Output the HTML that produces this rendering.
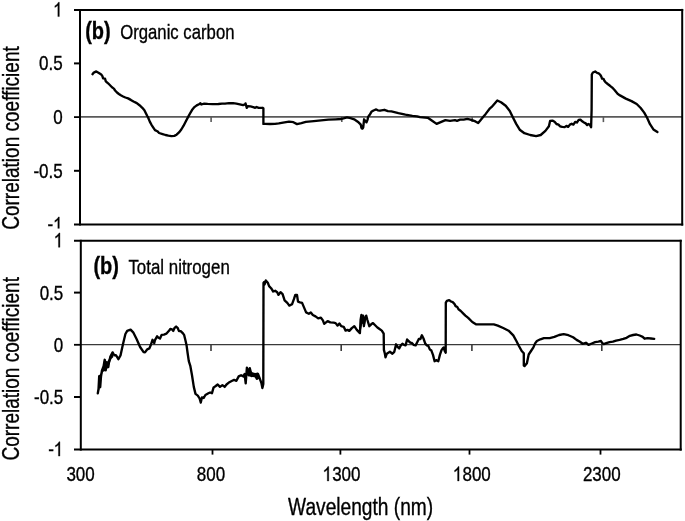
<!DOCTYPE html>
<html><head><meta charset="utf-8"><style>
html,body{margin:0;padding:0;background:#fff;}
body{width:685px;height:521px;overflow:hidden;}
svg{display:block;will-change:transform;}
text{font-family:"Liberation Sans", sans-serif;fill:#000;stroke:#000;stroke-width:0.35px;}
</style></head><body>
<svg width="685" height="521" viewBox="0 0 685 521">
<defs><clipPath id="cl1" clipPathUnits="userSpaceOnUse"><rect x="-100" y="-100" width="300" height="97.3"/></clipPath></defs>
<rect width="685" height="521" fill="#fff"/>
<line x1="80" y1="116.8" x2="682.2" y2="116.8" stroke="#5a5a5a" stroke-width="1.8"/>
<line x1="74" y1="117.1" x2="80" y2="117.1" stroke="#000" stroke-width="1.8"/>
<line x1="211.1" y1="116.8" x2="211.1" y2="122.1" stroke="#5a5a5a" stroke-width="1.6"/>
<line x1="341.8" y1="116.8" x2="341.8" y2="122.1" stroke="#5a5a5a" stroke-width="1.6"/>
<line x1="472.2" y1="116.8" x2="472.2" y2="122.1" stroke="#5a5a5a" stroke-width="1.6"/>
<line x1="603.4" y1="116.8" x2="603.4" y2="122.1" stroke="#5a5a5a" stroke-width="1.6"/>
<line x1="74" y1="63.4" x2="80" y2="63.4" stroke="#000" stroke-width="2"/>
<line x1="74" y1="170.8" x2="80" y2="170.8" stroke="#000" stroke-width="2"/>
<line x1="74" y1="9.9" x2="683.2" y2="9.9" stroke="#000" stroke-width="2"/>
<line x1="74" y1="224.6" x2="683.2" y2="224.6" stroke="#000" stroke-width="2"/>
<line x1="80" y1="8.9" x2="80" y2="225.6" stroke="#000" stroke-width="2"/>
<line x1="682.2" y1="8.9" x2="682.2" y2="225.6" stroke="#000" stroke-width="2"/>
<line x1="80.8" y1="344.6" x2="680.7" y2="344.6" stroke="#3a3a3a" stroke-width="1.4"/>
<line x1="74" y1="344.8" x2="80.8" y2="344.8" stroke="#000" stroke-width="1.8"/>
<line x1="211" y1="344.6" x2="211" y2="351.0" stroke="#3a3a3a" stroke-width="1.6"/>
<line x1="341.2" y1="344.6" x2="341.2" y2="351.0" stroke="#3a3a3a" stroke-width="1.6"/>
<line x1="471.9" y1="344.6" x2="471.9" y2="351.0" stroke="#3a3a3a" stroke-width="1.6"/>
<line x1="601.8" y1="344.6" x2="601.8" y2="351.0" stroke="#3a3a3a" stroke-width="1.6"/>
<line x1="212.5" y1="449.6" x2="212.5" y2="454.6" stroke="#000" stroke-width="1.8"/>
<line x1="340.4" y1="449.6" x2="340.4" y2="454.6" stroke="#000" stroke-width="1.8"/>
<line x1="469.5" y1="449.6" x2="469.5" y2="454.6" stroke="#000" stroke-width="1.8"/>
<line x1="600.5" y1="449.6" x2="600.5" y2="454.6" stroke="#000" stroke-width="1.8"/>
<line x1="74" y1="292.6" x2="80.8" y2="292.6" stroke="#000" stroke-width="2"/>
<line x1="74" y1="397.0" x2="80.8" y2="397.0" stroke="#000" stroke-width="2"/>
<line x1="74" y1="240.8" x2="681.7" y2="240.8" stroke="#000" stroke-width="2"/>
<line x1="74" y1="449.6" x2="681.7" y2="449.6" stroke="#000" stroke-width="2"/>
<line x1="80.8" y1="239.8" x2="80.8" y2="450.6" stroke="#000" stroke-width="2"/>
<line x1="680.7" y1="239.8" x2="680.7" y2="450.6" stroke="#000" stroke-width="2"/>
<path d="M97.5,393.2 L98.0,388.8 L98.4,383.5 L98.6,376.4 L99.3,375.1 L100.6,373.8 L101.5,370.3 L102.4,368.5 L103.3,365.9 L104.1,359.3 L105.0,358.8 L105.9,360.6 L107.2,361.5 L108.5,359.7 L109.9,356.2 L111.2,354.0 L112.5,351.3 L113.4,357.0 L111.6,358.8 L110.3,361.5 L109.0,365.0 L108.1,367.6 L106.3,370.3 L105.0,371.1 L102.8,372.0 L101.5,375.6 L101.0,379.1 L100.6,386.1 L99.7,387.9 L98.8,391.4 Z" fill="#000" stroke="none"/>
<path d="M246.3,368.0 L247.0,367.0 L247.6,370.0 L248.3,371.5 L249.0,368.0 L250.3,368.0 L251.2,371.5 L253.0,372.5 L255.0,373.0 L256.8,372.8 L257.5,372.3 L258.5,374.5 L260.0,377.5 L261.0,380.5 L261.3,383.0 L260.0,380.5 L258.5,379.0 L257.2,379.8 L256.0,378.0 L254.5,377.2 L252.5,377.0 L251.3,377.2 L250.0,376.5 L248.5,376.5 L247.3,375.5 L246.3,375.5 Z" fill="#000" stroke="none"/>
<path d="M360.8,322.0 L361.2,314.6 L362.6,315.0 L363.2,318.0 L364.5,317.0 L365.8,315.2 L366.6,316.5 L366.0,320.0 L364.6,326.5 L363.6,327.0 L363.0,323.0 L362.2,324.0 L361.5,330.0 Z" fill="#000" stroke="none"/>
<path d="M360.4,124.6 L361.6,124.8 L363.2,125.5 L363.8,127.0 L363.6,129.2 L360.8,129.2 L360.4,127.0 Z" fill="#000" stroke="none"/>
<path d="M92.5,74.2 L93.8,72.6 L96.3,71.4 L98.9,72.9 L101.2,74.4 L102.4,76.1 L103.1,78.4 L105.0,78.7 L105.8,81.3 L108.1,83.3 L112.0,87.3 L113.9,88.6 L115.1,90.5 L117.0,92.5 L118.9,94.0 L120.8,95.3 L123.1,96.5 L125.4,97.5 L128.1,98.4 L130.8,99.9 L133.5,101.5 L136.8,103.1 L139.5,105.2 L142.3,107.8 L144.4,110.3 L146.0,113.5 L147.4,116.3 L148.0,117.2 L149.8,121.6 L151.5,124.8 L153.8,128.3 L155.0,130.1 L157.3,131.2 L159.1,133.0 L162.6,134.1 L165.5,135.0 L168.4,135.6 L171.4,136.1 L174.3,135.9 L176.6,134.7 L179.0,132.4 L181.3,129.5 L183.6,125.7 L186.0,121.0 L188.3,116.6 L190.4,112.8 L192.4,109.4 L194.4,107.1 L196.7,105.4 L199.0,104.2 L200.4,103.3 L201.3,104.5 L204.2,103.6 L207.6,103.9 L212.5,104.2 L218.4,104.0 L222.0,103.6 L225.0,103.7 L229.0,103.2 L233.1,103.2 L236.4,103.6 L239.8,104.3 L243.1,105.1 L245.1,104.4 L245.5,103.4 L246.8,107.8 L247.8,106.1 L250.5,106.4 L253.2,107.1 L255.2,107.8 L256.6,107.0 L258.6,107.9 L262.6,107.8 L263.4,108.2 L263.4,123.9 L265.3,123.9 L270.0,124.0 L275.0,123.9 L278.8,123.4 L283.1,122.6 L289.0,121.6 L293.4,122.2 L297.0,124.1 L301.4,123.1 L305.8,121.9 L313.8,121.2 L321.1,120.4 L328.4,119.7 L335.7,119.3 L340.8,119.0 L343.5,118.4 L347.0,117.4 L350.5,118.1 L354.2,119.3 L356.3,120.7 L358.5,122.3 L360.6,124.4 L361.5,127.5 L362.3,128.5 L363.2,127.5 L364.1,119.3 L365.4,121.2 L366.5,122.3 L367.6,119.6 L368.1,116.9 L369.7,114.8 L371.4,111.8 L373.5,110.5 L376.2,109.4 L377.8,110.3 L380.0,110.7 L384.4,109.8 L387.9,111.1 L391.4,111.4 L398.4,113.1 L405.4,114.6 L412.4,115.8 L417.1,116.3 L420.0,117.2 L427.8,117.8 L432.5,121.0 L436.6,123.9 L440.7,122.1 L445.4,120.1 L450.0,120.9 L455.0,120.1 L457.0,120.8 L460.1,119.6 L463.7,119.6 L467.3,118.9 L470.3,119.6 L472.6,120.3 L475.4,121.4 L478.2,123.1 L480.5,120.3 L483.1,117.0 L485.7,113.9 L490.0,108.3 L491.7,106.9 L497.3,100.5 L501.0,102.3 L505.7,105.8 L509.8,111.0 L512.7,116.9 L516.2,123.9 L519.7,129.7 L524.4,133.2 L530.2,135.0 L536.1,136.1 L540.7,135.0 L545.4,130.9 L548.9,126.2 L550.1,121.0 L552.4,120.6 L553.0,120.8 L554.8,121.9 L556.5,124.0 L558.5,124.6 L560.0,126.3 L562.3,126.9 L564.7,127.1 L566.4,125.9 L568.2,126.9 L569.9,124.6 L571.7,123.7 L573.4,124.6 L575.2,121.9 L576.9,122.5 L578.7,119.9 L580.4,119.6 L582.2,121.3 L584.0,122.5 L585.7,123.4 L587.2,125.1 L588.3,124.0 L589.8,124.6 L591.1,127.2 L591.6,110.0 L591.8,74.5 L592.9,72.5 L595.2,71.5 L597.1,72.9 L598.7,73.4 L600.3,74.8 L601.2,76.4 L602.1,78.7 L603.5,78.9 L604.4,80.7 L605.4,82.1 L607.7,84.0 L610.0,85.8 L612.3,87.7 L614.1,89.5 L617.6,93.8 L620.0,95.4 L625.8,98.6 L631.5,101.1 L636.7,104.0 L640.7,108.0 L644.2,112.6 L647.1,117.8 L650.0,124.2 L653.4,129.4 L657.4,132.0" fill="none" stroke="#000" stroke-width="2.35" stroke-linejoin="round" stroke-linecap="round"/>
<path d="M97.8,393.3 L98.5,389.3 L98.9,381.9 L99.2,376.1 L100.4,376.6 L100.2,387.2 L101.0,376.6 L102.0,370.3 L103.6,366.1 L104.7,359.8 L105.7,370.3 L106.8,362.9 L108.3,367.1 L108.9,362.9 L110.4,356.6 L112.6,352.4 L114.1,355.0 L116.2,355.5 L118.4,359.2 L120.5,355.5 L122.9,344.4 L125.4,334.0 L127.2,330.9 L130.6,329.7 L133.2,332.3 L136.7,339.2 L140.1,347.0 L143.6,352.2 L145.0,352.4 L147.3,349.3 L149.4,348.4 L150.8,345.0 L152.5,339.8 L153.6,341.5 L154.2,343.2 L155.1,339.8 L157.1,336.3 L158.2,337.5 L160.0,338.6 L161.7,334.8 L164.0,334.6 L166.3,333.7 L169.2,330.5 L170.3,329.0 L172.1,329.4 L173.2,330.9 L174.4,328.2 L176.1,326.5 L177.8,328.2 L179.0,331.1 L180.7,331.1 L183.0,333.4 L184.2,335.2 L185.3,339.8 L186.5,344.9 L187.6,353.0 L188.8,361.1 L190.3,365.8 L192.0,375.2 L193.8,386.9 L195.5,393.9 L197.8,395.6 L199.6,398.5 L200.8,402.6 L201.9,397.4 L203.7,398.0 L205.4,395.0 L208.4,393.3 L210.1,392.5 L211.9,393.3 L213.6,387.4 L215.4,386.3 L217.7,384.5 L220.0,386.9 L222.4,385.1 L224.7,386.9 L226.5,384.5 L229.4,382.2 L231.7,381.0 L234.1,379.9 L236.4,380.8 L238.7,376.4 L241.1,375.2 L243.4,376.4 L244.6,374.0 L245.7,383.4 L246.9,367.6 L248.6,372.8 L249.8,368.2 L251.6,375.2 L253.9,374.0 L255.7,376.4 L256.8,378.7 L258.0,374.0 L259.8,378.7 L261.5,383.4 L262.4,388.0 L263.3,384.0 L263.5,283.0 L264.2,282.0 L264.6,284.5 L265.8,280.5 L267.8,282.8 L269.1,286.1 L271.1,288.2 L273.2,291.5 L275.2,290.8 L277.2,292.2 L278.5,294.9 L280.5,292.2 L282.6,294.2 L284.6,300.3 L287.3,302.9 L289.3,305.6 L292.0,304.3 L294.0,298.9 L295.3,294.9 L297.0,294.9 L298.0,301.6 L300.0,302.3 L302.1,302.9 L304.1,307.6 L306.1,312.4 L308.8,313.7 L310.8,312.4 L312.8,315.0 L315.5,316.4 L318.2,318.4 L320.9,317.7 L322.9,320.4 L324.2,323.8 L327.6,321.1 L330.3,322.4 L333.7,322.7 L335.6,323.1 L337.5,325.6 L339.4,323.5 L341.2,326.2 L343.7,326.8 L345.6,330.6 L347.5,329.9 L349.3,330.9 L351.8,328.1 L354.3,326.2 L356.8,329.9 L359.9,333.1 L360.6,320.0 L361.4,315.0 L362.2,322.5 L363.1,315.6 L363.9,326.2 L364.9,318.7 L366.2,315.6 L367.4,320.0 L369.3,326.2 L371.2,324.3 L373.0,323.1 L374.9,325.0 L377.4,327.5 L379.9,329.3 L381.8,330.6 L383.7,333.7 L383.9,349.9 L384.9,353.7 L385.5,357.4 L386.8,353.7 L389.9,351.8 L392.4,353.7 L394.3,351.8 L396.1,344.3 L397.6,346.9 L399.2,348.5 L400.8,345.4 L402.4,343.8 L404.0,344.8 L405.6,345.4 L407.1,339.5 L408.7,341.1 L410.3,342.7 L411.9,343.0 L413.5,344.8 L415.6,345.4 L417.2,342.2 L418.8,339.0 L420.4,339.0 L421.9,335.3 L423.5,338.5 L425.1,343.2 L426.7,345.4 L428.3,345.9 L429.9,349.6 L431.4,350.6 L433.0,354.9 L434.6,361.2 L436.2,360.1 L438.3,361.2 L439.9,354.9 L441.5,350.1 L443.1,348.0 L443.8,347.5 L444.6,350.6 L445.7,352.7 L445.8,302.7 L446.9,300.9 L449.2,300.1 L451.0,301.5 L452.7,302.1 L454.4,303.8 L455.6,306.1 L457.3,307.0 L458.5,309.3 L460.8,311.0 L463.1,313.3 L465.4,315.6 L468.2,317.9 L472.3,322.0 L476.3,324.4 L483.0,324.4 L493.8,324.4 L497.8,325.6 L503.2,328.0 L508.6,330.7 L513.3,335.4 L516.4,341.0 L518.8,345.7 L521.7,351.0 L523.8,353.3 L523.8,365.5 L524.6,366.1 L526.9,363.2 L528.7,354.5 L531.0,351.0 L533.4,347.4 L535.1,343.4 L536.9,341.0 L540.4,339.3 L543.9,338.1 L549.7,338.1 L554.4,336.9 L559.1,335.0 L563.7,334.2 L568.4,335.2 L573.1,337.3 L576.6,339.9 L580.0,341.8 L582.6,343.8 L585.9,342.8 L588.5,344.8 L591.8,343.5 L595.1,342.2 L598.4,341.7 L601.0,341.0 L602.3,343.1 L603.7,344.1 L606.3,343.1 L609.6,342.2 L612.9,341.7 L616.1,340.6 L619.6,339.9 L623.3,338.9 L626.6,337.8 L629.9,335.8 L633.1,335.0 L636.4,334.5 L639.7,335.5 L642.7,336.8 L644.6,338.7 L647.6,338.1 L650.9,338.5 L654.2,338.9" fill="none" stroke="#000" stroke-width="2.35" stroke-linejoin="round" stroke-linecap="round"/>
<g transform="translate(53.25 16.6) scale(0.85 1)" style="font-size:20px" fill="#000" stroke="#000" stroke-width="0.35"><path transform="translate(0.00 0) scale(0.00977 -0.00977)" stroke-width="35.8" d="M553 0L553 1147Q488 1085 383 1023Q278 961 194 930L194 1104Q345 1175 458 1276Q571 1377 618 1472L733 1472L733 0Z"/></g>
<g transform="translate(39.07 70.3) scale(0.85 1)" style="font-size:20px" fill="#000" stroke="#000" stroke-width="0.35"><text x="0.00" y="0">0.5</text></g>
<g transform="translate(53.25 124.0) scale(0.85 1)" style="font-size:20px" fill="#000" stroke="#000" stroke-width="0.35"><text x="0.00" y="0">0</text></g>
<g transform="translate(33.41 177.7) scale(0.85 1)" style="font-size:20px" fill="#000" stroke="#000" stroke-width="0.35"><text x="0.00" y="0">-0.5</text></g>
<g transform="translate(47.58 231.3) scale(0.85 1)" style="font-size:20px" fill="#000" stroke="#000" stroke-width="0.35" clip-path="url(#cl1)"><text x="0.00" y="0">-</text><path transform="translate(6.66 0) scale(0.00977 -0.00977)" stroke-width="35.8" d="M553 0L553 1147Q488 1085 383 1023Q278 961 194 930L194 1104Q345 1175 458 1276Q571 1377 618 1472L733 1472L733 0Z"/></g>
<g transform="translate(53.85 247.3) scale(0.85 1)" style="font-size:20px" fill="#000" stroke="#000" stroke-width="0.35"><path transform="translate(0.00 0) scale(0.00977 -0.00977)" stroke-width="35.8" d="M553 0L553 1147Q488 1085 383 1023Q278 961 194 930L194 1104Q345 1175 458 1276Q571 1377 618 1472L733 1472L733 0Z"/></g>
<g transform="translate(39.67 299.5) scale(0.85 1)" style="font-size:20px" fill="#000" stroke="#000" stroke-width="0.35"><text x="0.00" y="0">0.5</text></g>
<g transform="translate(53.85 351.7) scale(0.85 1)" style="font-size:20px" fill="#000" stroke="#000" stroke-width="0.35"><text x="0.00" y="0">0</text></g>
<g transform="translate(34.01 403.9) scale(0.85 1)" style="font-size:20px" fill="#000" stroke="#000" stroke-width="0.35"><text x="0.00" y="0">-0.5</text></g>
<g transform="translate(48.18 456.1) scale(0.85 1)" style="font-size:20px" fill="#000" stroke="#000" stroke-width="0.35"><text x="0.00" y="0">-</text><path transform="translate(6.66 0) scale(0.00977 -0.00977)" stroke-width="35.8" d="M553 0L553 1147Q488 1085 383 1023Q278 961 194 930L194 1104Q345 1175 458 1276Q571 1377 618 1472L733 1472L733 0Z"/></g>
<g transform="translate(66.42 481) scale(0.85 1)" style="font-size:20px" fill="#000" stroke="#000" stroke-width="0.35"><text x="0.00" y="0">300</text></g>
<g transform="translate(196.87 481) scale(0.85 1)" style="font-size:20px" fill="#000" stroke="#000" stroke-width="0.35"><text x="0.00" y="0">800</text></g>
<g transform="translate(322.69 481) scale(0.85 1)" style="font-size:20px" fill="#000" stroke="#000" stroke-width="0.35"><path transform="translate(0.00 0) scale(0.00977 -0.00977)" stroke-width="35.8" d="M553 0L553 1147Q488 1085 383 1023Q278 961 194 930L194 1104Q345 1175 458 1276Q571 1377 618 1472L733 1472L733 0Z"/><text x="11.12" y="0">300</text></g>
<g transform="translate(452.99 481) scale(0.85 1)" style="font-size:20px" fill="#000" stroke="#000" stroke-width="0.35"><path transform="translate(0.00 0) scale(0.00977 -0.00977)" stroke-width="35.8" d="M553 0L553 1147Q488 1085 383 1023Q278 961 194 930L194 1104Q345 1175 458 1276Q571 1377 618 1472L733 1472L733 0Z"/><text x="11.12" y="0">800</text></g>
<g transform="translate(582.89 481) scale(0.85 1)" style="font-size:20px" fill="#000" stroke="#000" stroke-width="0.35"><text x="0.00" y="0">2300</text></g>
<text transform="translate(360.6 514.6) scale(0.815 1)" text-anchor="middle" style="font-size:23.5px;font-weight:normal">Wavelength (nm)</text>
<text transform="translate(18.6 138.0) rotate(-90) scale(0.82 1)" text-anchor="middle" style="font-size:23.2px">Correlation coefficient</text>
<text transform="translate(18.6 368.8) rotate(-90) scale(0.82 1)" text-anchor="middle" style="font-size:23.2px">Correlation coefficient</text>
<text transform="translate(85.2 39.3) scale(0.85 1)" text-anchor="start" style="font-size:23.5px;font-weight:bold">(b)</text>
<text transform="translate(120.2 39.2) scale(0.82 1)" text-anchor="start" style="font-size:20.4px;font-weight:normal">Organic carbon</text>
<text transform="translate(93.4 274.0) scale(0.85 1)" text-anchor="start" style="font-size:23.5px;font-weight:bold">(b)</text>
<text transform="translate(128.4 273.6) scale(0.82 1)" text-anchor="start" style="font-size:20.6px;font-weight:normal">Total nitrogen</text>
</svg>
</body></html>
